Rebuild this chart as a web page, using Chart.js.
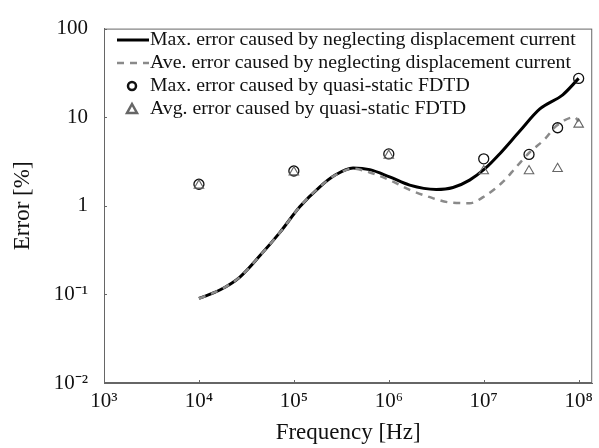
<!DOCTYPE html>
<html lang="en">
<head>
    <meta charset="UTF-8">
    <title>Error vs Frequency</title>
    <script src="https://cdn.jsdelivr.net/npm/chart.js@4.4.0/dist/chart.umd.min.js"></script>
    <style>
        html, body { margin: 0; padding: 0; background: #fff; }
    </style>
</head>
<body>
<canvas id="myChart" width="599" height="448"></canvas>
<script>
    // curves: error from neglecting displacement current
    const curveFreq = [1e4, 1.66e4, 2.7e4, 4.4e4, 7.1e4, 1.16e5, 1.88e5, 2.7e5, 4.2e5, 6.3e5, 1.02e6, 1.66e6, 3.16e6, 4.75e6, 7.1e6, 1.03e7, 1.47e7, 2.4e7, 3.9e7, 6.8e7, 1e8];
    const curveMax  = [0.090, 0.112, 0.157, 0.274, 0.498, 0.98, 1.64, 2.21, 2.67, 2.56, 2.12, 1.71, 1.53, 1.61, 1.95, 2.62, 3.85, 6.98, 12.4, 17.9, 27.4];
    const aveFreq = [1e4, 1.66e4, 2.7e4, 4.4e4, 7.1e4, 1.16e5, 1.88e5, 2.7e5, 4.2e5, 6.3e5, 1.11e6, 1.66e6, 2.6e6, 4.4e6, 7.1e6, 1.06e7, 1.6e7, 2.2e7, 3.05e7, 4.4e7, 5.8e7, 9.1e7, 1e8];
    const curveAve  = [0.090, 0.112, 0.157, 0.274, 0.498, 0.98, 1.64, 2.2, 2.62, 2.38, 1.87, 1.51, 1.27, 1.09, 1.07, 1.32, 1.87, 2.74, 4.02, 5.65, 7.94, 10.0, 8.9];

    // quasi-static FDTD points
    const fdtdFreq = [1e4, 1e5, 1e6, 1e7, 3e7, 6e7, 1e8];
    const fdtdMax  = [1.75, 2.47, 3.85, 3.39, 3.8, 7.6, 27.4];
    const fdtdAvg  = [1.7, 2.4, 3.7, 2.47, 2.47, 2.62, 8.3];

    const xTicks = [1e3, 1e4, 1e5, 1e6, 1e7, 1e8];
    const xLabels = ['10³', '10⁴', '10⁵', '10⁶', '10⁷', '10⁸'];
    const yTicks = [0.01, 0.1, 1, 10, 100];
    const yLabels = ['10⁻²', '10⁻¹', '1', '10', '100'];

    const serif = '"Liberation Serif", "Times New Roman", serif';

    function pts(xs, ys) {
        return xs.map((x, i) => ({ x: x, y: ys[i] }));
    }

    // frame + small inward ticks
    const framePlugin = {
        id: 'frame',
        afterDatasetsDraw(chart) {
            const a = chart.chartArea;
            const ctx = chart.ctx;
            ctx.save();
            ctx.strokeStyle = '#666';
            ctx.lineWidth = 1;
            ctx.strokeRect(a.left + 0.5, a.top + 0.5, a.right - a.left - 1, a.bottom - a.top - 1);
            const xs = chart.scales.x, ys = chart.scales.y;
            ctx.beginPath();
            xTicks.forEach(v => {
                const px = Math.round(xs.getPixelForValue(v)) + 0.5;
                ctx.moveTo(px, a.bottom); ctx.lineTo(px, a.bottom - 3);
            });
            yTicks.forEach(v => {
                const py = Math.round(ys.getPixelForValue(v)) + 0.5;
                ctx.moveTo(a.left, py); ctx.lineTo(a.left + 3, py);
            });
            ctx.stroke();
            ctx.restore();
        }
    };

    // legend drawn inside the plot, top-left
    const legendPlugin = {
        id: 'innerLegend',
        afterDraw(chart) {
            const ctx = chart.ctx;
            const rows = [40, 63, 86, 109];
            ctx.save();
            ctx.font = '19.8px ' + serif;
            ctx.textBaseline = 'middle';
            chart.data.datasets.forEach((ds, i) => {
                const y = rows[i];
                ctx.strokeStyle = ds.borderColor;
                ctx.setLineDash([]);
                if (ds.showLine === false) {
                    ctx.lineWidth = 2.5;
                    ctx.beginPath();
                    if (ds.pointStyle === 'triangle') {
                        ctx.moveTo(132, y - 5); ctx.lineTo(137, y + 4); ctx.lineTo(127, y + 4); ctx.closePath();
                    } else {
                        ctx.arc(132, y, 4, 0, Math.PI * 2);
                    }
                    ctx.stroke();
                } else {
                    ctx.lineWidth = ds.borderWidth;
                    ctx.setLineDash(ds.borderDash || []);
                    ctx.beginPath();
                    ctx.moveTo(117, y); ctx.lineTo(149, y);
                    ctx.stroke();
                }
                ctx.fillStyle = '#111';
                ctx.fillText(ds.label, 150, y);
            });
            ctx.restore();
        }
    };

    new Chart('myChart', {
        type: 'line',
        data: {
            datasets: [{
                label: 'Max. error caused by neglecting displacement current',
                data: pts(curveFreq, curveMax),
                borderColor: '#000',
                borderWidth: 3,
                pointRadius: 0,
                cubicInterpolationMode: 'monotone',
                order: 3
            }, {
                label: 'Ave. error caused by neglecting displacement current',
                data: pts(aveFreq, curveAve),
                borderColor: '#8a8a8a',
                borderWidth: 2.5,
                borderDash: [7, 6],
                pointRadius: 0,
                cubicInterpolationMode: 'monotone',
                order: 2
            }, {
                label: 'Max. error caused by quasi-static FDTD',
                data: pts(fdtdFreq, fdtdMax),
                showLine: false,
                pointStyle: 'circle',
                pointRadius: 5,
                borderColor: '#111',
                backgroundColor: 'transparent',
                pointBorderWidth: 1.3,
                order: 1
            }, {
                label: 'Avg. error caused by quasi-static FDTD',
                data: pts(fdtdFreq, fdtdAvg),
                showLine: false,
                pointStyle: 'triangle',
                pointRadius: 5.5,
                borderColor: '#666',
                backgroundColor: 'transparent',
                pointBorderWidth: 1.1,
                order: 0
            }]
        },
        options: {
            responsive: false,
            animation: false,
            layout: { padding: { top: 23, right: 6, left: 0, bottom: 0 } },
            plugins: {
                legend: { display: false },
                tooltip: { enabled: false }
            },
            scales: {
                x: {
                    type: 'logarithmic',
                    min: 1e3,
                    max: 1.39e8,
                    afterBuildTicks: s => { s.ticks = xTicks.map(v => ({ value: v })); },
                    afterFit: s => { s.height = 65; },
                    grid: { drawOnChartArea: false, drawTicks: false },
                    border: { color: '#666' },
                    ticks: {
                        autoSkip: false,
                        maxRotation: 0,
                        padding: 6,
                        color: '#111',
                        font: { family: serif, size: 21 },
                        callback: (v, i) => xLabels[i]
                    },
                    title: {
                        display: true,
                        text: 'Frequency [Hz]',
                        color: '#111',
                        font: { family: serif, size: 23 },
                        padding: { top: 0, bottom: 1 }
                    }
                },
                y: {
                    type: 'logarithmic',
                    min: 0.01,
                    max: 100,
                    afterBuildTicks: s => { s.ticks = yTicks.map(v => ({ value: v })); },
                    afterFit: s => { s.width = 104; },
                    grid: { drawOnChartArea: false, drawTicks: false },
                    border: { color: '#666' },
                    ticks: {
                        autoSkip: false,
                        padding: 16,
                        color: '#111',
                        font: { family: serif, size: 21 },
                        callback: (v, i) => yLabels[i]
                    },
                    title: {
                        display: true,
                        text: 'Error [%]',
                        color: '#111',
                        font: { family: serif, size: 23 },
                        padding: { top: 9, bottom: 0 }
                    }
                }
            }
        },
        plugins: [framePlugin, legendPlugin]
    });
</script>
</body>
</html>
